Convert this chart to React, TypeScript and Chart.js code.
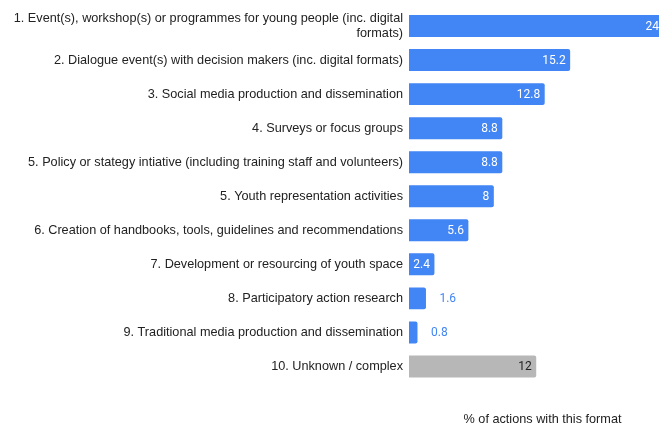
import React, { useEffect, useRef } from "react";
import { Chart, registerables } from "chart.js";

Chart.register(...registerables);

const categories: (string | string[])[] = [
  ["1. Event(s), workshop(s) or programmes for young people (inc. digital", "formats)"],
  "2. Dialogue event(s) with decision makers (inc. digital formats)",
  "3. Social media production and dissemination",
  "4. Surveys or focus groups",
  "5. Policy or stategy intiative (including training staff and volunteers)",
  "5. Youth representation activities",
  "6. Creation of handbooks, tools, guidelines and recommendations",
  "7. Development or resourcing of youth space",
  "8. Participatory action research",
  "9. Traditional media production and dissemination",
  "10. Unknown / complex",
];
const values: number[] = [24, 15.2, 12.8, 8.8, 8.8, 8, 5.6, 2.4, 1.6, 0.8, 12];
const barColors: string[] = [
  "#4285F4", "#4285F4", "#4285F4", "#4285F4", "#4285F4", "#4285F4",
  "#4285F4", "#4285F4", "#4285F4", "#4285F4", "#B7B7B7",
];
const insideLabelColors: string[] = [
  "#FFFFFF", "#FFFFFF", "#FFFFFF", "#FFFFFF", "#FFFFFF", "#FFFFFF",
  "#FFFFFF", "#FFFFFF", "#FFFFFF", "#FFFFFF", "#222222",
];
const axisTitle = "% of actions with this format";

const valueLabelPlugin = {
  id: "valueLabels",
  afterDatasetsDraw(chart: any) {
    const ctx = chart.ctx;
    const meta = chart.getDatasetMeta(0);
    ctx.save();
    ctx.font = "12px Roboto";
    ctx.textBaseline = "middle";
    meta.data.forEach((bar: any, i: number) => {
      const v = values[i];
      const text = String(v);
      const w = ctx.measureText(text).width;
      const barW = bar.x - bar.base;
      if (barW >= w + 8) {
        ctx.fillStyle = insideLabelColors[i];
        ctx.textAlign = "right";
        ctx.fillText(text, bar.x - 4.5, bar.y + 0.5);
      } else {
        ctx.fillStyle = barColors[i];
        ctx.textAlign = "left";
        ctx.fillText(text, bar.x + 13.5, bar.y + 0.5);
      }
    });
    ctx.restore();
  },
};

const axisTitlePlugin = {
  id: "axisTitleCustom",
  afterDraw(chart: any) {
    const ctx = chart.ctx;
    ctx.save();
    ctx.font = "12.7px 'Liberation Sans', Arial, sans-serif";
    ctx.fillStyle = "#222222";
    ctx.textAlign = "center";
    ctx.textBaseline = "middle";
    ctx.fillText(axisTitle, 542.5, 419);
    ctx.restore();
  },
};

export default function App() {
  const ref = useRef<HTMLCanvasElement | null>(null);
  useEffect(() => {
    if (!ref.current) return;
    const chart = new Chart(ref.current, {
      type: "bar",
      data: {
        labels: categories,
        datasets: [
          {
            data: values,
            backgroundColor: barColors,
            borderRadius: 2,
            borderSkipped: "left",
            barPercentage: 1,
            categoryPercentage: 0.645,
          },
        ],
      },
      options: {
        indexAxis: "y",
        responsive: false,
        animation: false,
        layout: { padding: { left: 0, right: 0, top: 9, bottom: 44.5 } },
        plugins: {
          legend: { display: false },
          tooltip: { enabled: false },
        },
        scales: {
          x: {
            display: false,
            min: 0,
            max: 23.58,
          },
          y: {
            grid: { display: false, drawTicks: false },
            border: { display: false },
            ticks: {
              padding: 6,
              color: "#222222",
              font: { family: "'Liberation Sans', Arial, sans-serif", size: 12.7, lineHeight: 1.2 },
              autoSkip: false,
            },
            afterFit(scale: any) {
              scale.width = 409;
              scale.paddingTop = 0;
              scale.paddingBottom = 0;
            },
          },
        },
      },
      plugins: [valueLabelPlugin, axisTitlePlugin],
    });
    return () => chart.destroy();
  }, []);
  return (
    <div style={{ position: "fixed", left: 0, top: 0, width: 659, height: 428, background: "#fff" }}>
      <canvas ref={ref} width={659} height={428} style={{ display: "block" }} />
    </div>
  );
}
